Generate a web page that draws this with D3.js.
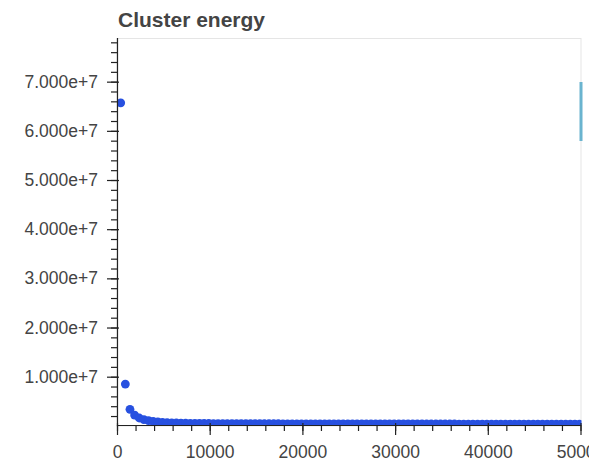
<!DOCTYPE html>
<html>
<head>
<meta charset="utf-8">
<script src="https://cdn.jsdelivr.net/npm/d3@7"></script>
<style>
  html, body { margin: 0; padding: 0; background: #fff; }
  svg { display: block; }
  text { font-family: "Liberation Sans", Arial, Helvetica, sans-serif; }
</style>
</head>
<body>
<svg id="chart" width="589" height="461"></svg>
<script>
// ---- data ----
const chartTitle = "Cluster energy";
const iterations = [
  400, 900, 1400, 1900, 2400, 2900, 3400, 3900, 4400, 4900,
  5400, 5900, 6400, 6900, 7400, 7900, 8400, 8900, 9400, 9900,
  10400, 10900, 11400, 11900, 12400, 12900, 13400, 13900, 14400, 14900,
  15400, 15900, 16400, 16900, 17400, 17900, 18400, 18900, 19400, 19900,
  20400, 20900, 21400, 21900, 22400, 22900, 23400, 23900, 24400, 24900,
  25400, 25900, 26400, 26900, 27400, 27900, 28400, 28900, 29400, 29900,
  30400, 30900, 31400, 31900, 32400, 32900, 33400, 33900, 34400, 34900,
  35400, 35900, 36400, 36900, 37400, 37900, 38400, 38900, 39400, 39900,
  40400, 40900, 41400, 41900, 42400, 42900, 43400, 43900, 44400, 44900,
  45400, 45900, 46400, 46900, 47400, 47900, 48400, 48900, 49400, 49900
];
// energy in millions
const energyMillions = [
  65.7, 8.5, 3.37, 2.2, 1.6, 1.25, 1.05, 0.9, 0.8, 0.72,
  0.66, 0.62, 0.58, 0.55, 0.53, 0.51, 0.50, 0.49, 0.485, 0.48,
  0.475, 0.47, 0.465, 0.46, 0.455, 0.45, 0.447, 0.444, 0.441, 0.438,
  0.435, 0.432, 0.43, 0.428, 0.426, 0.424, 0.422, 0.42, 0.418, 0.416,
  0.414, 0.412, 0.41, 0.408, 0.406, 0.404, 0.402, 0.40, 0.399, 0.398,
  0.397, 0.396, 0.395, 0.394, 0.393, 0.392, 0.391, 0.39, 0.389, 0.388,
  0.387, 0.386, 0.385, 0.384, 0.383, 0.382, 0.381, 0.38, 0.379, 0.378,
  0.377, 0.376, 0.375, 0.374, 0.373, 0.372, 0.371, 0.37, 0.369, 0.368,
  0.367, 0.366, 0.365, 0.364, 0.363, 0.362, 0.361, 0.36, 0.359, 0.358,
  0.357, 0.356, 0.355, 0.354, 0.353, 0.352, 0.351, 0.35, 0.349, 0.348
];
const xMajorTicks = [0, 10000, 20000, 30000, 40000, 50000];
const yMajorTicks = [1e7, 2e7, 3e7, 4e7, 5e7, 6e7, 7e7];
const xMinorStep = 2000;
const yMinorStep = 2e6;
const xDomain = [0, 50000];
const yDomain = [7.5e4, 7.888e7];

// ---- layout ----
const plotL = 117, plotR = 580.5, plotT = 38, plotB = 425.5;
const svg = d3.select("#chart");

const x = d3.scaleLinear().domain(xDomain).range([plotL, plotR]);
const y = d3.scaleLinear().domain(yDomain).range([plotB, plotT]);

// frame outline
svg.append("rect")
  .attr("x", plotL).attr("y", plotT + 0.5)
  .attr("width", plotR - plotL + 0.5).attr("height", plotB - plotT)
  .attr("fill", "none").attr("stroke", "#e5e5e5").attr("stroke-width", 1);

// clip for glyphs
svg.append("clipPath").attr("id", "frameClip")
  .append("rect").attr("x", plotL).attr("y", plotT)
  .attr("width", plotR - plotL + 1).attr("height", plotB - plotT);

// points
svg.append("g").attr("clip-path", "url(#frameClip)")
  .selectAll("circle")
  .data(iterations.map((it, i) => ({ it, e: energyMillions[i] * 1e6 })))
  .join("circle")
  .attr("cx", d => x(d.it))
  .attr("cy", d => y(d.e))
  .attr("r", 4.4)
  .attr("fill", "#2750e0");

// minor ticks
const xMinor = d3.range(xDomain[0], xDomain[1] + 1, xMinorStep);
const yMinor = d3.range(yMinorStep, yDomain[1], yMinorStep);

const xAxisMinor = svg.append("g").attr("transform", `translate(0,${plotB - 0.5})`)
  .call(d3.axisBottom(x).tickValues(xMinor).tickSize(6).tickFormat(""));
xAxisMinor.select(".domain").remove();

const yAxisMinor = svg.append("g").attr("transform", `translate(${plotL},0)`)
  .call(d3.axisLeft(y).tickValues(yMinor).tickSize(6).tickFormat(""));
yAxisMinor.select(".domain").remove();

// major axes
const xAxis = svg.append("g").attr("transform", `translate(0,${plotB - 0.5})`)
  .call(d3.axisBottom(x).tickValues(xMajorTicks).tickSize(10).tickSizeOuter(0).tickPadding(10.5).tickFormat(d3.format("d")));
xAxis.selectAll(".tick line").attr("y1", -2);
xAxis.select(".domain").attr("d", `M${plotL},0.5H${plotR + 0.5}`);

const yAxis = svg.append("g").attr("transform", `translate(${plotL},0)`)
  .call(d3.axisLeft(y).tickValues(yMajorTicks).tickSize(10).tickSizeOuter(0).tickPadding(9).tickFormat(d3.format(".3e")));
yAxis.selectAll(".tick line").attr("x1", 2);
yAxis.select(".domain").attr("d", `M0.5,${plotT}V${plotB + 0.5}`);

svg.selectAll(".tick line, .domain").attr("stroke", "#222").attr("stroke-width", 1.2);
svg.selectAll(".tick text").attr("fill", "#444").attr("font-size", 17.5);

// side indicator bar
svg.append("rect")
  .attr("x", 579.5).attr("y", 82).attr("width", 3).attr("height", 59)
  .attr("fill", "#6ab4cf");

// title
svg.append("text")
  .attr("x", 118).attr("y", 27)
  .attr("font-size", 21).attr("font-weight", "bold")
  .attr("fill", "#444")
  .text(chartTitle);
</script>
</body>
</html>
